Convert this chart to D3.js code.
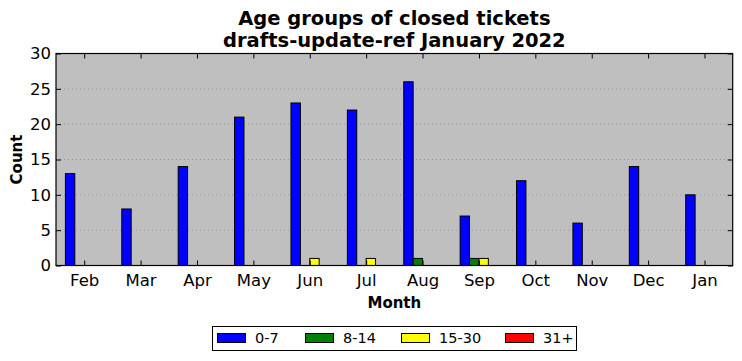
<!DOCTYPE html>
<html>
<head>
<meta charset="utf-8">
<script src="https://cdn.jsdelivr.net/npm/d3@7"></script>
<style>
  body { margin: 0; background: #fff; }
  text { font-family: "DejaVu Sans", sans-serif; }
</style>
</head>
<body>
<svg></svg>
<script>
const width = 742;
const height = 361;
const margin = { left: 56, right: 9.3, top: 53.5, bottom: 95.5 };

// данные
const months = ["Feb", "Mar", "Apr", "May", "Jun", "Jul", "Aug", "Sep", "Oct", "Nov", "Dec", "Jan"];
const ageGroups = ["0-7", "8-14", "15-30", "31+"];
const colors = ["#0000ff", "#008000", "#ffff00", "#ff0000"];
const age0to7 = [13, 8, 14, 21, 23, 22, 26, 7, 12, 6, 14, 10];
const age8to14 = [0, 0, 0, 0, 0, 0, 1, 1, 0, 0, 0, 0];
const age15to30 = [0, 0, 0, 0, 1, 1, 0, 1, 0, 0, 0, 0];
const age31plus = [0, 0, 0, 0, 0, 0, 0, 0, 0, 0, 0, 0];
const series = [age0to7, age8to14, age15to30, age31plus];
const yTicks = [0, 5, 10, 15, 20, 25, 30];

let svg = d3.select("svg")
    .attr("width", width)
    .attr("height", height);

const x0 = margin.left;
const x1 = width - margin.right;
const y0 = height - margin.bottom;
const y1 = margin.top;

let scX = d3.scalePoint()
    .domain(months)
    .range([x0, x1])
    .padding(0.5);
let scY = d3.scaleLinear()
    .domain([0, 30])
    .range([y0, y1]);
const barW = scX.step() / 6;

// фон
svg.append("rect")
    .attr("x", x0).attr("y", y1)
    .attr("width", x1 - x0).attr("height", y0 - y1)
    .attr("fill", "#bfbfbf");

// сетка
svg.append("g")
    .selectAll("line")
    .data(yTicks.slice(1, -1))
    .enter()
    .append("line")
    .attr("x1", x0).attr("x2", x1)
    .attr("y1", d => scY(d)).attr("y2", d => scY(d))
    .attr("stroke", "#808080")
    .attr("stroke-width", 0.6)
    .attr("stroke-dasharray", "1,3");

// столбики
series.forEach((vals, i) => {
    svg.append("g")
        .selectAll("rect")
        .data(vals.map((v, j) => ({ m: months[j], v: v })).filter(d => d.v > 0))
        .enter()
        .append("rect")
        .attr("x", d => scX(d.m) + (i - 2) * barW)
        .attr("y", d => scY(d.v))
        .attr("width", barW)
        .attr("height", d => scY(0) - scY(d.v))
        .attr("fill", colors[i])
        .attr("stroke", "#000")
        .attr("stroke-width", 1);
});

// оси
let axisB = d3.axisBottom(scX).tickSizeInner(-5).tickSizeOuter(0).tickPadding(9);
let axisT = d3.axisTop(scX).tickSizeInner(-5).tickSizeOuter(0).tickFormat("");
let axisL = d3.axisLeft(scY).tickValues(yTicks).tickSizeInner(-5).tickSizeOuter(0).tickPadding(5);
let axisR = d3.axisRight(scY).tickValues(yTicks).tickSizeInner(-5).tickSizeOuter(0).tickFormat("");

svg.append("g").attr("transform", `translate(0, ${y0})`).call(axisB);
svg.append("g").attr("transform", `translate(0, ${y1})`).call(axisT);
svg.append("g").attr("transform", `translate(${x0}, 0)`).call(axisL);
svg.append("g").attr("transform", `translate(${x1}, 0)`).call(axisR);

svg.selectAll(".domain").remove();
svg.selectAll(".tick text")
    .attr("fill", "#000")
    .style("font-family", "DejaVu Sans")
    .style("font-size", "16.5px");
svg.selectAll(".tick line").attr("stroke", "#000");

// рамка
svg.append("rect")
    .attr("x", x0).attr("y", y1)
    .attr("width", x1 - x0).attr("height", y0 - y1)
    .attr("fill", "none")
    .attr("stroke", "#000")
    .attr("stroke-width", 1.2);

// заголовок
const cx = (x0 + x1) / 2;
svg.append("text")
    .attr("x", cx).attr("y", 25)
    .attr("text-anchor", "middle")
    .style("font-size", "19.5px").style("font-weight", "bold")
    .text("Age groups of closed tickets");
svg.append("text")
    .attr("x", cx).attr("y", 47)
    .attr("text-anchor", "middle")
    .style("font-size", "19.5px").style("font-weight", "bold")
    .text("drafts-update-ref January 2022");

// подписи осей
svg.append("text")
    .attr("x", cx).attr("y", 308)
    .attr("text-anchor", "middle")
    .style("font-size", "15px").style("font-weight", "bold")
    .text("Month");
svg.append("text")
    .attr("transform", `translate(22, ${(y0 + y1) / 2}) rotate(-90)`)
    .attr("text-anchor", "middle")
    .style("font-size", "15px").style("font-weight", "bold")
    .text("Count");

// легенда
let legend = svg.append("g");
legend.append("rect")
    .attr("x", 212.5).attr("y", 326.5)
    .attr("width", 364).attr("height", 24)
    .attr("fill", "#fff")
    .attr("stroke", "#000");
const legX = [217, 305, 401, 505];
ageGroups.forEach((g, i) => {
    legend.append("rect")
        .attr("x", legX[i] + 0.5).attr("y", 333.5)
        .attr("width", 28).attr("height", 9)
        .attr("fill", colors[i])
        .attr("stroke", "#000");
    legend.append("text")
        .attr("x", legX[i] + 38).attr("y", 343.3)
        .style("font-size", "14.5px")
        .text(g);
});
</script>
</body>
</html>
